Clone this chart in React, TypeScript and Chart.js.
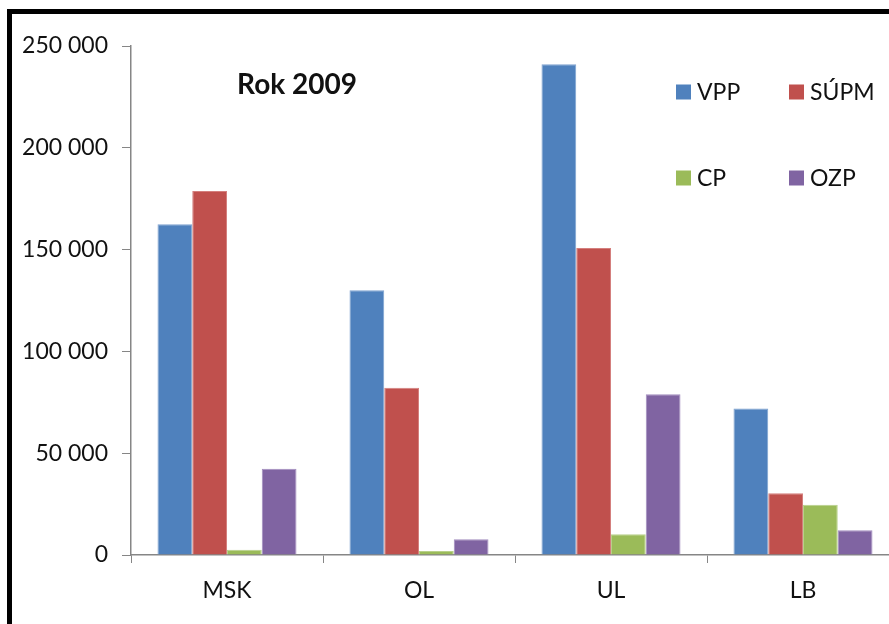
import React, { useEffect, useRef } from "react";
import { Chart, registerables } from "chart.js";

Chart.register(...registerables);

const categories = ["MSK", "OL", "UL", "LB"];
const seriesNames = ["VPP", "SÚPM", "CP", "OZP"];
const vpp = [162400, 130000, 241000, 72000];
const supm = [178800, 82200, 150800, 30300];
const cp = [2600, 2000, 10200, 24700];
const ozp = [42400, 7700, 78900, 12100];
const yTicks = [0, 50000, 100000, 150000, 200000, 250000];
const titleText = "Rok 2009";

const colors = ["#4F81BD", "#C0504D", "#9BBB59", "#8064A2"];
const borderColors = ["#7EA1CF", "#D47F7D", "#B8D08A", "#A28CBE"];
const FONT = "Lato, 'Open Sans', sans-serif";

const fmt = (v: number) => String(v).replace(/\B(?=(\d{3})+(?!\d))/g, " ");

const overlay = {
  id: "overlay",
  afterDraw(chart: any) {
    const ctx = chart.ctx;
    ctx.save();
    ctx.fillStyle = "#111";
    ctx.font = `bold 28px ${FONT}`;
    ctx.textAlign = "center";
    ctx.textBaseline = "middle";
    ctx.fillText(titleText, 285, 71);
    ctx.font = `23px ${FONT}`;
    ctx.textAlign = "left";
    const cols = [664, 777];
    const rows = [78, 164];
    chart.data.datasets.forEach((ds: any, i: number) => {
      const x = cols[i % 2];
      const y = rows[Math.floor(i / 2)];
      ctx.fillStyle = ds.backgroundColor;
      ctx.fillRect(x, y - 7.5, 15, 15);
      ctx.fillStyle = "#111";
      ctx.fillText(ds.label, x + 21, y + 1);
    });
    ctx.restore();
  },
};

export default function App() {
  const ref = useRef<HTMLCanvasElement>(null);
  useEffect(() => {
    const series = [vpp, supm, cp, ozp];
    const chart = new Chart(ref.current!, {
      type: "bar",
      data: {
        labels: categories,
        datasets: series.map((d, i) => ({
          label: seriesNames[i],
          data: d,
          backgroundColor: colors[i],
          borderColor: borderColors[i],
          borderWidth: 1,
          categoryPercentage: 0.724,
          barPercentage: 1,
        })),
      },
      options: {
        responsive: false,
        animation: false,
        layout: { padding: { top: 32, left: 0, right: 0, bottom: 0 } },
        plugins: { legend: { display: false }, tooltip: { enabled: false } },
        scales: {
          x: {
            grid: {
              drawOnChartArea: false,
              offset: true,
              tickLength: 8,
              color: "#868686",
            },
            border: { color: "#868686", width: 1.5 },
            ticks: { font: { family: FONT, size: 23 }, color: "#111", padding: 14 },
            afterFit: (s: any) => {
              s.height = 60;
            },
          },
          y: {
            min: 0,
            max: 250000,
            afterBuildTicks: (s: any) => {
              s.ticks = yTicks.map((v) => ({ value: v }));
            },
            grid: { drawOnChartArea: false, tickLength: 9, color: "#868686" },
            border: { color: "#868686", width: 1.5 },
            ticks: {
              font: { family: FONT, size: 23 },
              color: "#111",
              padding: 14,
              callback: (v: any) => fmt(Number(v)),
            },
            afterFit: (s: any) => {
              s.width = 119;
            },
          },
        },
      },
      plugins: [overlay],
    });
    return () => chart.destroy();
  }, []);
  return (
    <div
      style={{
        position: "absolute",
        left: 7,
        top: 9,
        width: 882,
        height: 615,
        boxSizing: "border-box",
        borderLeft: "5px solid #000",
        borderTop: "5px solid #000",
        overflow: "hidden",
        background: "#fff",
      }}
    >
      <canvas ref={ref} width={887} height={601} style={{ display: "block" }} />
    </div>
  );
}
